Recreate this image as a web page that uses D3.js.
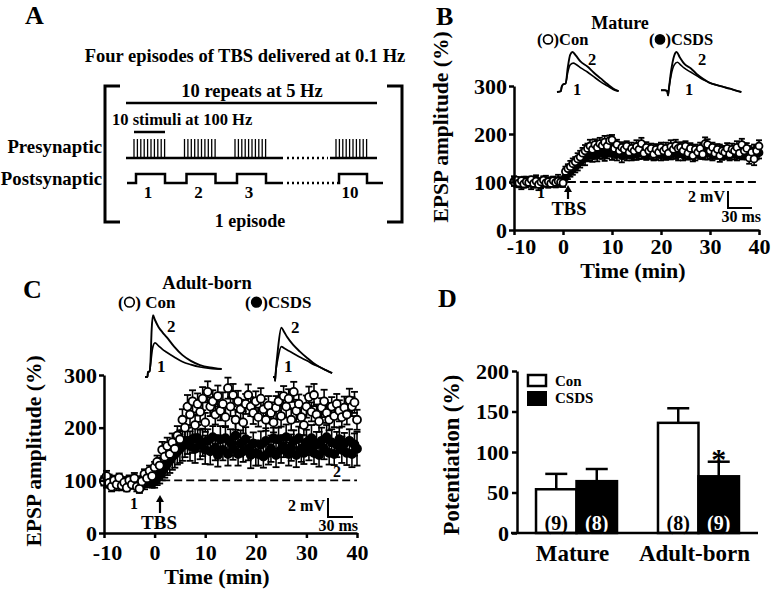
<!DOCTYPE html>
<html><head><meta charset="utf-8">
<script src="https://cdn.jsdelivr.net/npm/d3@7/dist/d3.min.js"></script>
<style>
html,body{margin:0;padding:0;background:#fff;}
svg{display:block;font-family:'Liberation Serif','Times New Roman',Times,serif;font-weight:bold;}
</style></head><body>
<svg id="fig" width="771" height="591"></svg>
<script>
// ================= DATA =================
const timeMin = d3.range(-10, 40.001, 0.5); // sampling grid, every 30 s
const timeTicks = [-10, 0, 10, 20, 30, 40];
const epspTicks = [0, 100, 200, 300];

// Panel B – mature neurons
const matureCon = [
 100,104,98,103,96,101,99,105,97,102,95,100,104,98,101,97,103,99,102,100,98,
 122,128,132,138,142,148,152,160,165,170,175,168,178,172,180,176,183,175,186,188,
 170,178,165,172,168,175,162,170,165,174,168,180,160,172,165,170,158,168,162,172,
 165,170,160,174,168,176,170,172,165,175,160,170,155,168,162,170,158,180,178,165,
 172,160,168,155,165,162,170,158,168,165,172,160,178,165,170,150,162,148,165,175];
const matureConErr = [
 8,6,9,7,8,10,7,6,9,8,12,7,8,6,9,7,8,10,7,9,8,
 10,9,12,11,10,12,13,11,12,10,13,12,11,14,12,10,13,12,11,10,
 12,10,13,11,12,10,11,12,10,13,11,12,10,11,12,10,13,11,12,10,
 11,12,10,13,11,12,10,11,12,10,13,11,12,10,11,12,10,13,11,12,
 10,12,11,13,10,12,11,10,12,11,13,10,12,15,11,12,10,13,11,12];
const matureCsds = [
 102,98,100,96,103,99,101,97,100,104,98,95,100,102,97,99,101,98,103,100,99,
 110,118,122,128,132,138,142,148,150,155,158,155,160,158,162,160,158,162,165,160,
 162,158,164,155,160,158,162,156,160,158,162,160,163,157,160,162,158,160,163,158,
 160,157,162,159,164,160,158,163,157,161,159,163,160,158,162,160,164,159,161,160,
 158,162,160,164,158,161,163,159,162,160,157,163,160,165,159,162,158,164,160,161];
const matureCsdsErr = [
 10,8,9,11,8,10,9,12,8,10,9,8,10,11,9,8,10,9,12,10,9,
 10,12,11,13,12,14,12,13,15,12,14,13,12,15,13,12,14,13,12,14,
 12,13,11,14,12,13,12,11,13,12,14,12,13,11,12,13,12,14,12,13,
 12,11,13,12,14,12,13,11,12,13,12,14,12,13,11,12,13,12,14,12,
 13,12,11,14,12,13,12,14,11,13,12,14,13,15,12,13,12,14,13,12];

// Panel C – adult-born neurons
const adultCon = [
 98,108,95,88,100,92,105,90,96,86,100,92,104,88,84,98,112,104,118,108,125,
 135,128,158,145,165,150,172,160,185,178,215,200,240,225,250,205,245,230,255,210,
 268,240,250,225,260,232,245,220,275,240,262,215,250,235,210,245,262,240,228,250,
 220,255,235,215,242,228,210,238,250,222,260,240,255,215,268,232,245,220,205,240,
 258,230,262,225,212,238,250,228,215,240,222,245,232,220,238,225,252,240,248,215];
const adultConErr = [
 8,10,7,9,8,11,8,9,10,7,9,8,10,9,8,10,9,8,10,9,10,
 12,14,15,13,16,15,17,16,18,17,20,18,22,20,21,18,20,19,22,18,
 20,18,21,19,20,18,22,19,20,18,21,19,20,18,21,19,20,18,21,19,
 18,20,19,21,18,20,19,22,18,20,19,21,18,20,19,21,18,20,19,21,
 20,18,21,19,20,18,22,19,20,18,21,19,20,18,21,19,22,18,20,19];
const adultCsds = [
 100,96,102,92,98,94,100,90,97,93,101,95,99,92,96,98,94,100,97,95,98,
 105,110,118,125,132,138,145,150,155,160,165,170,175,165,178,160,180,168,172,158,
 175,155,182,162,148,178,158,180,150,172,160,185,150,170,155,178,160,148,170,152,
 150,168,145,175,152,160,180,148,178,158,165,182,150,162,175,148,180,160,152,172,
 160,180,152,168,148,175,160,182,152,172,150,168,178,158,170,152,175,150,168,160];
const adultCsdsErr = [
 8,10,9,8,11,9,10,8,9,11,8,10,9,8,10,9,11,8,10,9,12,
 14,16,18,20,22,24,25,26,25,27,28,26,25,28,26,27,25,28,26,27,
 22,25,21,24,22,25,20,23,22,25,21,24,22,25,20,23,22,25,21,24,
 22,25,21,24,22,25,20,23,22,25,21,24,22,25,20,23,22,25,21,24,
 22,25,21,24,22,25,20,23,22,25,21,24,22,25,20,23,22,25,21,32];

// Example EPSP traces [ms, mV]
const bConTrace1 = [[0,0],[5,0.1],[6,0.6],[8,0.9],[11,1.0],[14,2.4],[17,3.2],[21,3.4],[25,3.2],[31,2.8],[39,2.35],[47,1.8],[56,1.2],[65,0.7],[72,0.3],[79,0.1]];
const bConTrace2 = [[0,0],[5,0.1],[6,0.6],[8,0.9],[11,1.0],[14,3.0],[17,4.4],[20,4.7],[24,4.3],[30,3.6],[39,3.0],[47,2.3],[56,1.6],[65,0.9],[72,0.4],[79,0.1]];
const bCsdsTrace1 = [[0,0.2],[5,0.2],[8,0.1],[9,-0.4],[10,0.3],[13,2.0],[17,3.2],[21,3.5],[25,3.2],[30,2.8],[38,2.35],[46,1.9],[55,1.4],[62,1.1],[72,0.8],[80,0.6],[88,0.4],[95,0.2],[103,0]];
const bCsdsTrace2 = [[0,0.2],[5,0.2],[8,0.1],[9,-0.4],[10,0.3],[13,2.5],[17,4.3],[20,4.7],[24,4.1],[30,3.3],[38,2.8],[46,2.1],[55,1.5],[62,1.1],[72,0.8],[80,0.6],[88,0.4],[95,0.2],[103,0]];
const cConTrace1 = [[0,0],[3,0],[3.5,0.5],[5.5,0.6],[6.5,1.2],[9,3.0],[12,3.6],[16,3.3],[21,2.9],[26,2.6],[35,2.1],[45,1.6],[55,1.3],[66,1.05],[78,0.9],[92,0.84]];
const cConTrace2 = [[0,0],[3,0],[3.5,0.5],[5.5,0.6],[6.5,1.5],[8,5.0],[9.6,6.5],[12,6.0],[16,5.3],[21,4.7],[26,4.2],[35,3.2],[45,2.3],[55,1.7],[66,1.26],[78,1.0],[92,0.84]];
const cCsdsTrace1 = [[0,0],[2,0],[2.5,-0.4],[3,0.2],[6,2.0],[10,3.2],[14,3.0],[18,2.8],[24,2.5],[32,2.1],[41,1.7],[48,1.35],[56,1.05],[64,0.7],[71,0.42]];
const cCsdsTrace2 = [[0,0],[2,0],[2.5,-0.4],[3,0.2],[6,3.0],[10,5.2],[13,4.8],[17,4.2],[24,3.4],[32,2.7],[41,2.0],[48,1.5],[56,1.05],[64,0.7],[71,0.42]];

// Panel D – potentiation
const groups = ["Mature", "Adult-born"];
const conditions = ["Con", "CSDS"];
const potCon = [54, 136];
const potConErr = [19, 18];
const potCsds = [64, 70];
const potCsdsErr = [15, 18];
const nCon = ["(9)", "(8)"];
const nCsds = ["(8)", "(9)"];
const potTicks = [0, 50, 100, 150, 200];

// Panel A schematic
const burstSlots = [0, 1, 2, 4];
const burstLabels = ["1", "2", "3", "10"];

// ================= DRAW =================
const FONT = "'Liberation Serif','Times New Roman',Times,serif";
const svg = d3.select("#fig");

function txt(g, x, y, s, size, anchor, fill) {
  return g.append("text").attr("x", x).attr("y", y).attr("font-size", size)
    .attr("text-anchor", anchor || "start").attr("fill", fill || "#000").text(s);
}
function vtxt(g, x, y, s, size) {
  return g.append("text").attr("transform", `translate(${x},${y}) rotate(-90)`)
    .attr("font-size", size).attr("text-anchor", "middle").text(s);
}
function ln(g, x1, y1, x2, y2, w, dash) {
  const l = g.append("line").attr("x1", x1).attr("y1", y1).attr("x2", x2).attr("y2", y2)
    .attr("stroke", "#000").attr("stroke-width", w || 2.5);
  if (dash) l.attr("stroke-dasharray", dash);
  return l;
}
function styleAxis(g, fs) {
  g.attr("font-family", FONT).attr("font-weight", "bold");
  g.selectAll("path,line").attr("stroke", "#000").attr("stroke-width", 2.5);
  g.selectAll("text").attr("font-size", fs).attr("fill", "#000");
}
function parenLabel(g, x, y, size, filled, label, r) {
  const t1 = txt(g, x, y, "(", size);
  const w1 = t1.node().getComputedTextLength();
  g.append("circle").attr("cx", x + w1 + r + 1).attr("cy", y - size * 0.34).attr("r", r)
    .attr("fill", filled ? "#000" : "#fff").attr("stroke", "#000").attr("stroke-width", 1.7);
  txt(g, x + w1 + 2 * r + 2, y, ")" + label, size);
}
function drawSeries(g, xs, ys, vals, errs, filled, r, cap) {
  const data = vals.map((v, i) => ({ t: timeMin[i], v: v, e: errs[i] }));
  const s = g.append("g");
  const eb = s.selectAll("g.eb").data(data).join("g");
  eb.append("line").attr("x1", d => xs(d.t)).attr("x2", d => xs(d.t))
    .attr("y1", d => ys(d.v - d.e)).attr("y2", d => ys(d.v + d.e))
    .attr("stroke", "#000").attr("stroke-width", 1.6);
  eb.append("line").attr("x1", d => xs(d.t) - cap).attr("x2", d => xs(d.t) + cap)
    .attr("y1", d => ys(d.v + d.e)).attr("y2", d => ys(d.v + d.e))
    .attr("stroke", "#000").attr("stroke-width", 1.8);
  eb.append("line").attr("x1", d => xs(d.t) - cap).attr("x2", d => xs(d.t) + cap)
    .attr("y1", d => ys(d.v - d.e)).attr("y2", d => ys(d.v - d.e))
    .attr("stroke", "#000").attr("stroke-width", 1.8);
  s.selectAll("circle").data(data).join("circle")
    .attr("cx", d => xs(d.t)).attr("cy", d => ys(d.v)).attr("r", r)
    .attr("fill", filled ? "#000" : "#fff").attr("stroke", "#000").attr("stroke-width", 1.8);
}
function drawTrace(g, pts, ox, oy, pxPerMs, pxPerMv, w) {
  const ix = d3.scaleLinear().domain([0, 1]).range([ox, ox + pxPerMs]);
  const iy = d3.scaleLinear().domain([0, 1]).range([oy, oy - pxPerMv]);
  g.append("path").attr("d", d3.line().x(d => ix(d[0])).y(d => iy(d[1])).curve(d3.curveMonotoneX)(pts))
    .attr("fill", "none").attr("stroke", "#000").attr("stroke-width", w).attr("stroke-linejoin", "round");
}
function scaleBar(g, x, y, pxPerMs, pxPerMv, fs, msDx) {
  const ix = d3.scaleLinear().domain([0, 1]).range([x, x + pxPerMs]);
  const iy = d3.scaleLinear().domain([0, 1]).range([y, y - pxPerMv]);
  g.append("path").attr("d", `M${ix(0)},${iy(2)}V${iy(0)}H${ix(30)}`)
    .attr("fill", "none").attr("stroke", "#000").attr("stroke-width", 2);
  txt(g, ix(0) - 3, iy(0) - 6, "2 mV", fs, "end");
  txt(g, ix(30) + msDx, iy(0) + 14, "30 ms", fs, "end");
}
function arrowUp(g, x, yBottom, yTop) {
  ln(g, x, yBottom, x, yTop + 5, 2.2);
  g.append("path").attr("d", `M${x - 4},${yTop + 7}L${x},${yTop}L${x + 4},${yTop + 7}Z`).attr("fill", "#000");
}

// ---------- Panel A ----------
const A = svg.append("g");
txt(A, 25, 24, "A", 26);
txt(A, 245, 62, "Four episodes of TBS delivered at 0.1 Hz", 18.5, "middle");
A.append("path").attr("d", "M120,86H105V222H120").attr("fill", "none").attr("stroke", "#000").attr("stroke-width", 3);
A.append("path").attr("d", "M387,86H402V222H387").attr("fill", "none").attr("stroke", "#000").attr("stroke-width", 3);
txt(A, 252, 97, "10 repeats at 5 Hz", 18.5, "middle");
ln(A, 126, 103, 377, 103, 2.5);
txt(A, 112, 125, "10 stimuli at 100 Hz", 16.5);
ln(A, 134, 132, 165, 132, 2.5);
txt(A, 102, 153, "Presynaptic", 18.8, "end");
txt(A, 102, 185, "Postsynaptic", 18.8, "end");
const xA = d3.scaleLinear().domain([0, 4]).range([133, 335]);
burstSlots.forEach(s => {
  d3.range(10).forEach(k => ln(A, xA(s) + 1 + k * 3.4, 158, xA(s) + 1 + k * 3.4, 139, 1.3));
});
ln(A, 126, 158, xA(2) + 49, 158, 2.5);
ln(A, xA(2) + 53, 158, xA(4) - 7, 158, 2.5, "2,3");
ln(A, xA(4) - 5, 158, 377, 158, 2.5);
let postD = `M127,183`;
burstSlots.slice(0, 3).forEach(s => { postD += `H${xA(s) + 3}V174H${xA(s) + 32}V183`; });
postD += `H${xA(2) + 49}`;
A.append("path").attr("d", postD).attr("fill", "none").attr("stroke", "#000").attr("stroke-width", 2.5);
ln(A, xA(2) + 53, 183, xA(4) + 1, 183, 2.5, "2,3");
A.append("path").attr("d", `M${xA(4) + 2},183H${xA(4) + 4}V174H${xA(4) + 32}V183H383`)
  .attr("fill", "none").attr("stroke", "#000").attr("stroke-width", 2.5);
burstSlots.forEach((s, i) => txt(A, xA(s) + 15, 198, burstLabels[i], 17, "middle"));
txt(A, 250, 227, "1 episode", 18, "middle");

// ---------- Panel B ----------
const B = svg.append("g");
const xB = d3.scaleLinear().domain([-10, 40]).range([514, 759]);
const yB = d3.scaleLinear().domain([0, 300]).range([230, 86]);
txt(B, 436, 25, "B", 26);
txt(B, 620, 29, "Mature", 18, "middle");
parenLabel(B, 537, 45, 16.5, false, "Con", 4.5);
parenLabel(B, 649, 45, 16.5, true, "CSDS", 4.5);
drawTrace(B, bConTrace1, 557, 92, 0.78, 8.5, 1.6);
drawTrace(B, bConTrace2, 557, 92, 0.78, 8.5, 1.9);
drawTrace(B, bCsdsTrace1, 661, 92, 0.78, 8.5, 1.6);
drawTrace(B, bCsdsTrace2, 661, 92, 0.78, 8.5, 1.9);
txt(B, 588, 65, "2", 16.5); txt(B, 573, 95, "1", 16.5);
txt(B, 698, 65, "2", 16.5); txt(B, 685, 95, "1", 16.5);
ln(B, xB(1), yB(100), xB(40), yB(100), 1.8, "8,4");
drawSeries(B, xB, yB, matureCsds, matureCsdsErr, true, 3.5, 3);
drawSeries(B, xB, yB, matureCon, matureConErr, false, 3.5, 3);
const gBy = B.append("g").attr("transform", `translate(${xB(-10)},0)`)
  .call(d3.axisLeft(yB).tickValues(epspTicks).tickSize(5).tickSizeOuter(0).tickPadding(2));
styleAxis(gBy, 22);
const gBx = B.append("g").attr("transform", `translate(0,${yB(0)})`)
  .call(d3.axisBottom(xB).tickValues(timeTicks).tickSize(5).tickSizeOuter(0).tickPadding(3).tickFormat(d => String(d)));
styleAxis(gBx, 22);
gBx.selectAll(".tick text").filter(d => d === -10).attr("dx", 7);
vtxt(B, 448, 127, "EPSP amplitude (%)", 21.5);
txt(B, 633, 278, "Time (min)", 22, "middle");
txt(B, 537, 198, "1", 16);
arrowUp(B, 568, 199, 185);
txt(B, 569, 215, "TBS", 18.5, "middle");
scaleBar(B, 728, 208, 0.8, 8.5, 16, 9);

// ---------- Panel C ----------
const C = svg.append("g");
const xC = d3.scaleLinear().domain([-10, 40]).range([104, 357]);
const yC = d3.scaleLinear().domain([0, 300]).range([533, 375]);
txt(C, 23, 298, "C", 26);
txt(C, 207, 289, "Adult-born", 18.5, "middle");
parenLabel(C, 118, 308, 17, false, " Con", 4.8);
parenLabel(C, 245, 308, 17, true, "CSDS", 4.8);
drawTrace(C, cConTrace1, 145, 377, 0.833, 9.5, 1.7);
drawTrace(C, cConTrace2, 145, 377, 0.833, 9.5, 1.9);
drawTrace(C, cCsdsTrace1, 273, 377, 0.833, 9.5, 1.7);
drawTrace(C, cCsdsTrace2, 273, 377, 0.833, 9.5, 1.9);
txt(C, 167, 332, "2", 17); txt(C, 157, 372, "1", 17);
txt(C, 291, 333, "2", 17); txt(C, 284, 372, "1", 17);
ln(C, xC(1.5), yC(100), xC(40), yC(100), 1.8, "8,4");
drawSeries(C, xC, yC, adultCsds, adultCsdsErr, true, 4, 3.5);
drawSeries(C, xC, yC, adultCon, adultConErr, false, 4, 3.5);
const gCy = C.append("g").attr("transform", `translate(${xC(-10)},0)`)
  .call(d3.axisLeft(yC).tickValues(epspTicks).tickSize(5).tickSizeOuter(0).tickPadding(2));
styleAxis(gCy, 22);
const gCx = C.append("g").attr("transform", `translate(0,${yC(0)})`)
  .call(d3.axisBottom(xC).tickValues(timeTicks).tickSize(5).tickSizeOuter(0).tickPadding(6).tickFormat(d => String(d)));
styleAxis(gCx, 22);
gCx.selectAll(".tick text").filter(d => d === -10).attr("dx", 3);
vtxt(C, 41, 451, "EPSP amplitude (%)", 21.5);
txt(C, 217, 584, "Time (min)", 22, "middle");
txt(C, 130, 509, "1", 16);
txt(C, 333, 477, "2", 16);
arrowUp(C, 160, 513, 495);
txt(C, 159, 529, "TBS", 19, "middle");
scaleBar(C, 328, 517, 0.833, 9.5, 16, 5);

// ---------- Panel D ----------
const D = svg.append("g");
txt(D, 438, 307, "D", 26);
const yD = d3.scaleLinear().domain([0, 200]).range([533, 371]);
const xD = d3.scaleBand().domain(groups).range([517, 758]).paddingInner(0.336).paddingOuter(0.156);
const xSub = d3.scaleBand().domain(conditions).range([0, xD.bandwidth()]);
const barData = [];
groups.forEach((gname, i) => {
  barData.push({ g: gname, c: "Con", v: potCon[i], e: potConErr[i], n: nCon[i] });
  barData.push({ g: gname, c: "CSDS", v: potCsds[i], e: potCsdsErr[i], n: nCsds[i] });
});
const bars = D.selectAll("g.bar").data(barData).join("g");
bars.append("line")
  .attr("x1", d => xD(d.g) + xSub(d.c) + xSub.bandwidth() / 2).attr("x2", d => xD(d.g) + xSub(d.c) + xSub.bandwidth() / 2)
  .attr("y1", d => yD(d.v)).attr("y2", d => yD(d.v + d.e)).attr("stroke", "#000").attr("stroke-width", 2.5);
bars.append("line")
  .attr("x1", d => xD(d.g) + xSub(d.c) + xSub.bandwidth() / 2 - 11).attr("x2", d => xD(d.g) + xSub(d.c) + xSub.bandwidth() / 2 + 11)
  .attr("y1", d => yD(d.v + d.e)).attr("y2", d => yD(d.v + d.e)).attr("stroke", "#000").attr("stroke-width", 2.5);
bars.append("rect")
  .attr("x", d => xD(d.g) + xSub(d.c)).attr("y", d => yD(d.v))
  .attr("width", xSub.bandwidth()).attr("height", d => yD(0) - yD(d.v))
  .attr("fill", d => d.c === "Con" ? "#fff" : "#000").attr("stroke", "#000").attr("stroke-width", 2.5);
bars.append("text")
  .attr("x", d => xD(d.g) + xSub(d.c) + xSub.bandwidth() / 2).attr("y", 530)
  .attr("text-anchor", "middle").attr("font-size", 20)
  .attr("fill", d => d.c === "Con" ? "#000" : "#fff").text(d => d.n);
txt(D, xD("Adult-born") + xSub("CSDS") + xSub.bandwidth() / 2, 469, "*", 30, "middle");
const gDy = D.append("g").attr("transform", `translate(517,0)`)
  .call(d3.axisLeft(yD).tickValues(potTicks).tickSize(5).tickSizeOuter(0).tickPadding(3));
styleAxis(gDy, 22);
ln(D, 511, yD(0), 758, yD(0), 2.5);
groups.forEach(gname => txt(D, xD(gname) + xD.bandwidth() / 2 - 4, 561, gname, 23, "middle"));
vtxt(D, 459, 455, "Potentiation (%)", 22.5);
D.append("rect").attr("x", 528).attr("y", 375).attr("width", 18).attr("height", 11).attr("fill", "#fff").attr("stroke", "#000").attr("stroke-width", 2.5);
D.append("rect").attr("x", 527).attr("y", 391).attr("width", 20).attr("height", 15).attr("fill", "#000");
txt(D, 555, 386, "Con", 15);
txt(D, 555, 403, "CSDS", 15);
</script>
</body></html>
